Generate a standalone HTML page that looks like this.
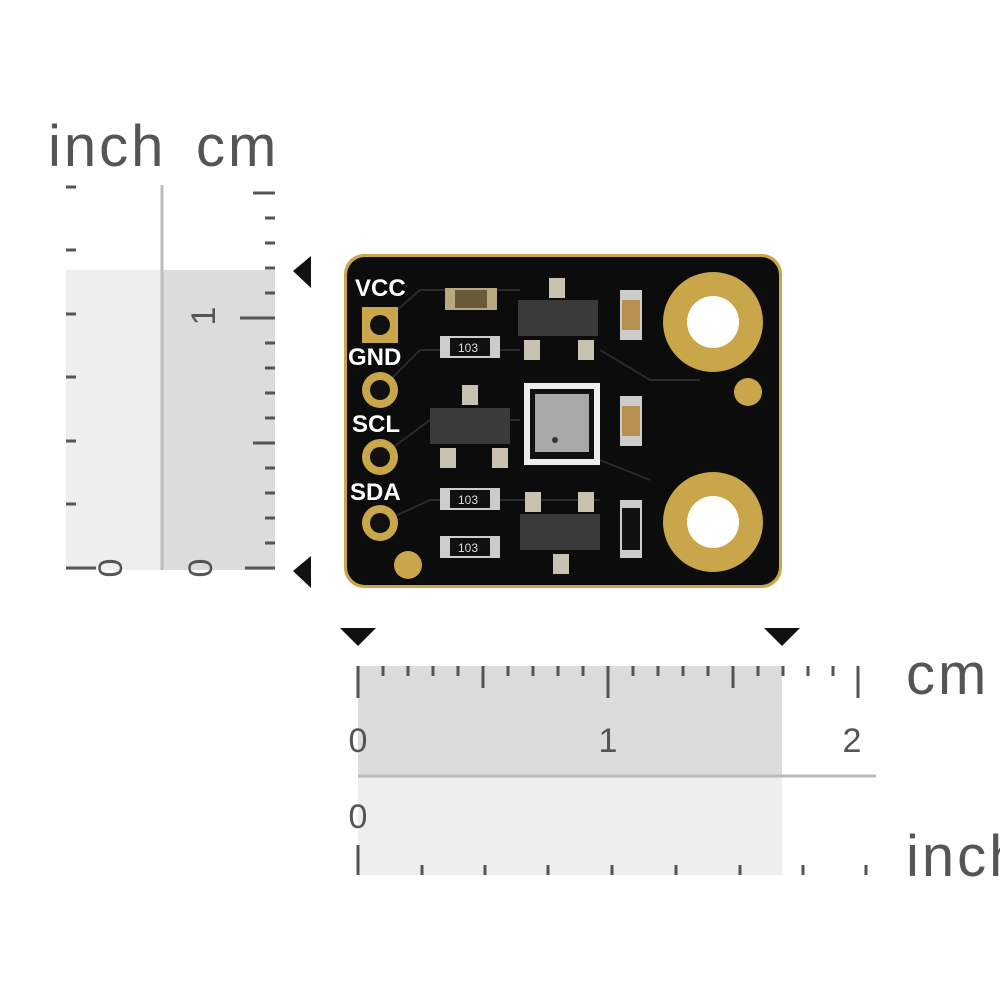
<!DOCTYPE html>
<html><head><meta charset="utf-8"><style>
html,body{margin:0;padding:0;background:#fff;}
svg{display:block;}
text{font-family:"Liberation Sans",sans-serif;}
</style></head><body>
<svg width="1000" height="1000" viewBox="0 0 1000 1000" xmlns="http://www.w3.org/2000/svg">
<rect width="1000" height="1000" fill="#fff"/>
<!-- left ruler -->
<text x="48" y="166" font-size="58" fill="#555" letter-spacing="3">inch</text>
<text x="196" y="166" font-size="58" fill="#555" letter-spacing="3">cm</text>
<rect x="66" y="270" width="96" height="300" fill="#eeeeee"/>
<rect x="162" y="270" width="113" height="300" fill="#dcdcdc"/>
<line x1="162" y1="185" x2="162" y2="570" stroke="#bbb" stroke-width="3"/>
<g stroke="#555" stroke-width="3">
<line x1="66" y1="568" x2="96" y2="568"/>
<line x1="66" y1="504" x2="76" y2="504"/><line x1="66" y1="441" x2="76" y2="441"/>
<line x1="66" y1="377" x2="76" y2="377"/><line x1="66" y1="314" x2="76" y2="314"/>
<line x1="66" y1="250" x2="76" y2="250"/><line x1="66" y1="187" x2="76" y2="187"/>
<line x1="245" y1="568" x2="275" y2="568"/><line x1="240" y1="318" x2="275" y2="318"/>
<line x1="253" y1="443" x2="275" y2="443"/><line x1="253" y1="193" x2="275" y2="193"/>
<line x1="265" y1="543" x2="275" y2="543"/><line x1="265" y1="518" x2="275" y2="518"/>
<line x1="265" y1="493" x2="275" y2="493"/><line x1="265" y1="468" x2="275" y2="468"/>
<line x1="265" y1="418" x2="275" y2="418"/><line x1="265" y1="393" x2="275" y2="393"/>
<line x1="265" y1="368" x2="275" y2="368"/><line x1="265" y1="343" x2="275" y2="343"/>
<line x1="265" y1="293" x2="275" y2="293"/><line x1="265" y1="268" x2="275" y2="268"/>
<line x1="265" y1="243" x2="275" y2="243"/><line x1="265" y1="218" x2="275" y2="218"/>
</g>
<text transform="translate(110,568) rotate(-90)" font-size="34" fill="#555" text-anchor="middle" dy="12">0</text>
<text transform="translate(200,568) rotate(-90)" font-size="34" fill="#555" text-anchor="middle" dy="12">0</text>
<text transform="translate(203,316) rotate(-90)" font-size="34" fill="#555" text-anchor="middle" dy="12">1</text>
<polygon points="293,271 311,256 311,288" fill="#111"/>
<polygon points="293,571 311,556 311,588" fill="#111"/>
<!-- PCB -->
<rect x="344" y="254" width="438" height="334" rx="20" fill="#c9a64a"/>
<rect x="347" y="257" width="432" height="328" rx="18" fill="#0c0c0d"/>
<g fill="none" stroke="#2a2a2a" stroke-width="2">
<path d="M380 325 L420 290 L520 290"/><path d="M380 390 L420 350 L520 350"/>
<path d="M380 457 L430 420 L520 420"/><path d="M380 523 L430 500 L520 500 L600 500"/>
<path d="M600 350 L650 380 L700 380"/><path d="M600 460 L650 480"/>
</g>
<g fill="#c9a64a">
<rect x="362" y="307" width="36" height="36"/>
<circle cx="380" cy="390" r="18"/><circle cx="380" cy="457" r="18"/><circle cx="380" cy="523" r="18"/>
<circle cx="713" cy="322" r="50"/><circle cx="713" cy="522" r="50"/>
<circle cx="748" cy="392" r="14"/><circle cx="408" cy="565" r="14"/>
</g>
<g fill="#111"><circle cx="380" cy="325" r="10"/><circle cx="380" cy="390" r="10"/><circle cx="380" cy="457" r="10"/><circle cx="380" cy="523" r="10"/></g>
<circle cx="713" cy="322" r="26" fill="#fff"/><circle cx="713" cy="522" r="26" fill="#fff"/>
<g fill="#fff" font-weight="bold" font-size="24">
<text x="355" y="296">VCC</text><text x="348" y="365">GND</text>
<text x="352" y="432">SCL</text><text x="350" y="500">SDA</text>
</g>
<g fill="#3a3a3a">
<rect x="518" y="300" width="80" height="36"/><rect x="430" y="408" width="80" height="36"/><rect x="520" y="514" width="80" height="36"/>
</g>
<g fill="#c9c2b0">
<rect x="549" y="278" width="16" height="20"/><rect x="524" y="340" width="16" height="20"/><rect x="578" y="340" width="16" height="20"/>
<rect x="462" y="385" width="16" height="20"/><rect x="440" y="448" width="16" height="20"/><rect x="492" y="448" width="16" height="20"/>
<rect x="525" y="492" width="16" height="20"/><rect x="578" y="492" width="16" height="20"/><rect x="553" y="554" width="16" height="20"/>
</g>
<g>
<rect x="445" y="288" width="52" height="22" fill="#b8a882"/><rect x="455" y="290" width="32" height="18" fill="#6b5a3a"/>
<rect x="440" y="336" width="60" height="22" fill="#ccc"/><rect x="450" y="338" width="40" height="18" fill="#111"/>
<rect x="440" y="488" width="60" height="22" fill="#ccc"/><rect x="450" y="490" width="40" height="18" fill="#111"/>
<rect x="440" y="536" width="60" height="22" fill="#ccc"/><rect x="450" y="538" width="40" height="18" fill="#111"/>
<rect x="620" y="290" width="22" height="50" fill="#ccc"/><rect x="622" y="300" width="18" height="30" fill="#b89050"/>
<rect x="620" y="396" width="22" height="50" fill="#ccc"/><rect x="622" y="406" width="18" height="30" fill="#b89050"/>
<rect x="620" y="500" width="22" height="58" fill="#ccc"/><rect x="622" y="508" width="18" height="42" fill="#111"/>
</g>
<g fill="#ddd" font-size="12"><text x="458" y="352">103</text><text x="458" y="504">103</text><text x="458" y="552">103</text></g>
<rect x="524" y="383" width="76" height="82" fill="#eee"/>
<rect x="530" y="389" width="64" height="70" fill="#111"/>
<rect x="535" y="394" width="54" height="58" fill="#a8a8a8"/>
<circle cx="555" cy="440" r="3" fill="#333"/>
<!-- bottom ruler -->
<polygon points="340,628 376,628 358,646" fill="#111"/>
<polygon points="764,628 800,628 782,646" fill="#111"/>
<rect x="358" y="666" width="424" height="112" fill="#dcdcdc"/>
<rect x="358" y="778" width="424" height="97" fill="#eeeeee"/>
<line x1="358" y1="776" x2="876" y2="776" stroke="#bbb" stroke-width="3"/>
<g stroke="#555" stroke-width="3">
<line x1="358" y1="666" x2="358" y2="698"/><line x1="608" y1="666" x2="608" y2="698"/><line x1="858" y1="666" x2="858" y2="698"/>
<line x1="483" y1="666" x2="483" y2="688"/><line x1="733" y1="666" x2="733" y2="688"/>
<line x1="383" y1="666" x2="383" y2="676"/><line x1="408" y1="666" x2="408" y2="676"/><line x1="433" y1="666" x2="433" y2="676"/><line x1="458" y1="666" x2="458" y2="676"/>
<line x1="508" y1="666" x2="508" y2="676"/><line x1="533" y1="666" x2="533" y2="676"/><line x1="558" y1="666" x2="558" y2="676"/><line x1="583" y1="666" x2="583" y2="676"/>
<line x1="633" y1="666" x2="633" y2="676"/><line x1="658" y1="666" x2="658" y2="676"/><line x1="683" y1="666" x2="683" y2="676"/><line x1="708" y1="666" x2="708" y2="676"/>
<line x1="758" y1="666" x2="758" y2="676"/><line x1="783" y1="666" x2="783" y2="676"/><line x1="808" y1="666" x2="808" y2="676"/><line x1="833" y1="666" x2="833" y2="676"/>
<line x1="358" y1="845" x2="358" y2="875"/>
<line x1="422" y1="865" x2="422" y2="875"/><line x1="485" y1="865" x2="485" y2="875"/><line x1="548" y1="865" x2="548" y2="875"/>
<line x1="612" y1="865" x2="612" y2="875"/><line x1="676" y1="865" x2="676" y2="875"/><line x1="740" y1="865" x2="740" y2="875"/>
<line x1="803" y1="865" x2="803" y2="875"/><line x1="866" y1="865" x2="866" y2="875"/>
</g>
<g font-size="34" fill="#555" text-anchor="middle">
<text x="358" y="752">0</text><text x="608" y="752">1</text><text x="852" y="752">2</text><text x="358" y="828">0</text>
</g>
<text x="906" y="694" font-size="58" fill="#555" letter-spacing="3">cm</text>
<text x="906" y="876" font-size="58" fill="#555" letter-spacing="3">inch</text>
</svg>
</body></html>
